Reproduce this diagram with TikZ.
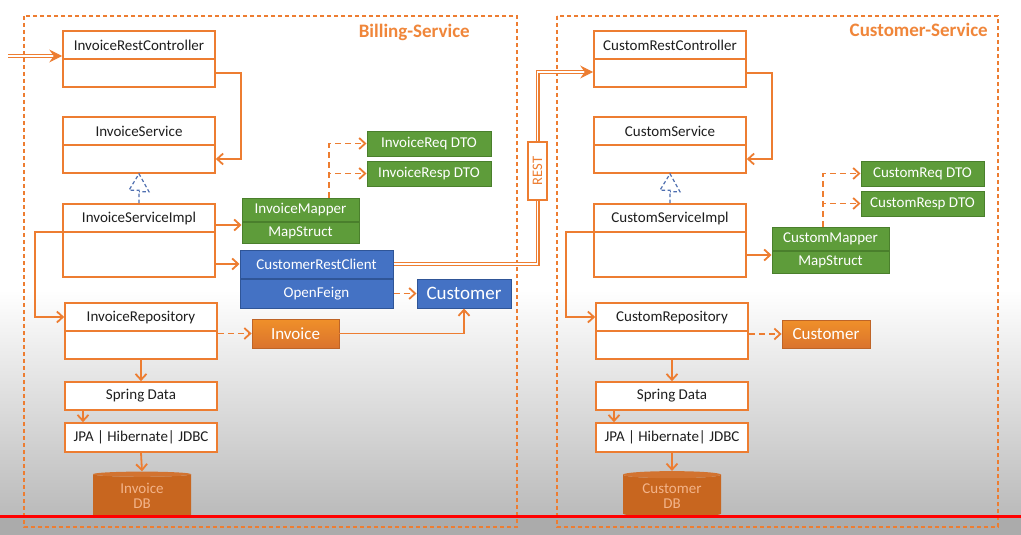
\documentclass[tikz,border=0pt]{standalone}
\usepackage{fontspec}
\setmainfont{Carlito}
\usetikzlibrary{arrows.meta,shapes.geometric,calc}
\definecolor{orL}{HTML}{ED7D31}
\definecolor{orT}{HTML}{F0863A}
\definecolor{grF}{HTML}{5E9C3A}
\definecolor{grD}{HTML}{4A7F2C}
\definecolor{blF}{HTML}{4472C4}
\definecolor{blD}{HTML}{2F5597}
\definecolor{dbF}{HTML}{C8661F}
\definecolor{dbT}{HTML}{D27330}
\definecolor{dbX}{HTML}{F3B48A}
\definecolor{inh}{HTML}{4F6FB0}
\definecolor{txt}{HTML}{1E1E1E}
\newcommand\fs[1]{\fontsize{#1}{#1}\selectfont}
\tikzset{
  svc/.style={draw=orL, line width=1.2pt, dash pattern=on 4pt off 3pt},
  svct/.style={text=orT, font=\fs{19}\bfseries, inner sep=0},
  cls/.style={draw=orL, line width=1.6pt, fill=white, inner sep=0},
  clsdiv/.style={draw=orL, line width=1.6pt},
  ttl/.style={text=txt, font=\fs{15}, inner sep=0},
  grn/.style={draw=grD, line width=1pt, fill=grF, text=white, font=\fs{15}, inner sep=0},
  blu/.style={draw=blD, line width=1pt, fill=blF, text=white, font=\fs{15}, inner sep=0},
  orb/.style={draw=orL!80!black, line width=0.8pt, top color=orL!85!yellow, bottom color=orL!92!black, text=white, font=\fs{17}, inner sep=0},
  arr/.style={draw=orL, line width=1.8pt, -{Straight Barb[length=6pt,width=11pt,line width=1.8pt]}},
  darr/.style={arr, dash pattern=on 6pt off 4pt},
  dbl/.style={draw=orL, line width=1.1pt, double=white, double distance=1.8pt},
  dblarr/.style={dbl, -{Stealth[length=13pt,width=13pt,inset=4.5pt]}},
  inhl/.style={draw=inh, line width=1.2pt, dash pattern=on 3.5pt off 2.5pt},
  db/.style={cylinder, shape border rotate=90, aspect=0.12, draw=none, cylinder uses custom fill, cylinder body fill=dbF, cylinder end fill=dbT, text=dbX, font=\fs{15}, align=center, inner sep=0},
  restb/.style={draw=orL, line width=2pt, fill=white, text=orL, font=\fs{14.5}, inner sep=0}
}
% name, left, top, right, bottom, title
\newcommand\umlc[6]{%
  \node[cls, minimum width={(#4)-(#2)}, minimum height={(#5)-(#3)}] (#1) at ({((#2)+(#4))/2},{((#3)+(#5))/2}) {};
  \draw[clsdiv] ({#2},{#3+28}) -- ({#4},{#3+28});
  \node[ttl] (#1-t) at ({((#2)+(#4))/2},{#3+14.5}) {#6};}
\begin{document}
\begin{tikzpicture}[x=1pt,y=-1pt]
\useasboundingbox (0,0) rectangle (1021,535);
% background
\fill[white] (0,0) rectangle (1021,535);
\shade[top color=white, bottom color=black!27] (0,290) rectangle (1021,517);
\fill[black!33] (0,517) rectangle (1021,535);
% service frames
\draw[svc] (24,16) rectangle (517,527);
\draw[svc] (557,16) rectangle (998,527);
\node[svct, anchor=east] (tb) at (470,32) {Billing-Service};
\node[svct, anchor=east] (tc) at (988,30) {Customer-Service};

% ---------------- Billing ----------------
\umlc{irc}{63}{31}{215}{87}{InvoiceRestController}
\umlc{is}{63}{117}{215}{173}{InvoiceService}
\umlc{isi}{63}{204}{215}{277}{InvoiceServiceImpl}
\umlc{ir}{65}{303}{217}{359}{InvoiceRepository}
\node[cls, ttl, minimum width=152, minimum height=28] (sd) at (141,396) {Spring Data};
\node[cls, ttl, minimum width=152, minimum height=29] (jpa) at (141,437.5) {JPA | Hibernate| JDBC};
\node[db, minimum width=98, minimum height=46] (idb) at (142,496) {Invoice\\DB};

\node[grn, minimum width=117, minimum height=23] (imap) at (300.5,209.5) {InvoiceMapper};
\node[grn, minimum width=117, minimum height=21, anchor=north] (ims) at (imap.south) {MapStruct};
\node[grn, minimum width=124, minimum height=25] (ireq) at (429,143.5) {InvoiceReq DTO};
\node[grn, minimum width=124, minimum height=25] (iresp) at (429,173.5) {InvoiceResp DTO};
\node[blu, minimum width=153, minimum height=28] (crc) at (316.5,264) {CustomerRestClient};
\node[blu, minimum width=153, minimum height=29, anchor=north] (crcf) at (crc.south) {OpenFeign};
\node[blu, minimum width=94, minimum height=29, font=\fs{19}] (cust) at (464,293.5) {Customer};
\node[orb, minimum width=87, minimum height=29] (inv) at (295.5,333.5) {Invoice};

\coordinate (src) at (8,56);
\draw[dblarr] (src) -- ([yshift=3pt]irc.west);
\draw[arr] ([yshift=-14pt]irc.east) -- ++(25,0) |- ([yshift=-14pt]is.east);
\draw[inhl] (isi.north) -- ++(0,-13) -- ++(-10,0) -- (is.south) -- ++(10,18) -- ++(-10,0);
\draw[arr] ([yshift=7.5pt]ims.west -| isi.east) -- ([yshift=7.5pt]ims.west);
\draw[arr] (isi.east |- crc.west) -- (crc.west);
\draw[arr] ([yshift=8.5pt]isi.west) -- ++(-27,0) |- ([yshift=14pt]ir.west);
\draw[darr] (ir.east |- inv.west) -- (inv.west);
\draw[arr] (inv.east) -| (cust.south);
\draw[darr] (crcf.east) -- (cust.west |- crcf.east);
\draw[darr] ([xshift=28.5pt]imap.north) |- (ireq.west);
\draw[darr] ([xshift=28.5pt]imap.north) |- (iresp.west);
\draw[arr] (ir.south) -- (sd.north);
\draw[arr] ([xshift=-58pt]sd.south) -- ([xshift=-58pt]jpa.north);
\draw[arr] (jpa.south) -- (idb.north);

% ---------------- Customer ----------------
\umlc{csrc}{594}{31}{746}{87}{CustomRestController}
\umlc{cs}{594}{117}{746}{173}{CustomService}
\umlc{csi}{594}{204}{746}{277}{CustomServiceImpl}
\umlc{cr}{596}{303}{748}{359}{CustomRepository}
\node[cls, ttl, minimum width=152, minimum height=28] (sd2) at (672,396) {Spring Data};
\node[cls, ttl, minimum width=152, minimum height=29] (jpa2) at (672,437.5) {JPA | Hibernate| JDBC};
\node[db, minimum width=98, minimum height=46] (cdb) at (672,496) {Customer\\DB};

\node[grn, minimum width=117, minimum height=23] (cmap) at (830.5,238.5) {CustomMapper};
\node[grn, minimum width=117, minimum height=22, anchor=north] (cms) at (cmap.south) {MapStruct};
\node[grn, minimum width=123, minimum height=25] (creq) at (922.5,173.5) {CustomReq DTO};
\node[grn, minimum width=123, minimum height=25] (cresp) at (922.5,203.5) {CustomResp DTO};
\node[orb, minimum width=88, minimum height=28] (ccust) at (826,334) {Customer};

\draw[arr] ([yshift=-14pt]csrc.east) -- ++(25,0) |- ([yshift=-14pt]cs.east);
\draw[inhl] (csi.north) -- ++(0,-13) -- ++(-10,0) -- (cs.south) -- ++(10,18) -- ++(-10,0);
\draw[arr] ([yshift=7pt]cms.west -| csi.east) -- ([yshift=7pt]cms.west);
\draw[arr] ([yshift=8.5pt]csi.west) -- ++(-27,0) |- ([yshift=14pt]cr.west);
\draw[darr] (cr.east |- ccust.west) -- (ccust.west);
\draw[darr] ([xshift=-7.5pt]cmap.north) |- (creq.west);
\draw[darr] ([xshift=-7.5pt]cmap.north) |- (cresp.west);
\draw[arr] (cr.south) -- (sd2.north);
\draw[arr] ([xshift=-58pt]sd2.south) -- ([xshift=-58pt]jpa2.north);
\draw[arr] (jpa2.south) -- (cdb.north);

% ---------------- REST link ----------------
\node[restb, rotate=90, minimum width=58, minimum height=19] (rest) at (537.5,171) {REST};
\draw[dbl] (crc.east) -| (rest.west);
\draw[dblarr] (rest.east) |- ([yshift=-13pt]csrc.west);

% progress bar
\fill[red] (0,514.5) rectangle (1021,518);
\end{tikzpicture}
\end{document}
